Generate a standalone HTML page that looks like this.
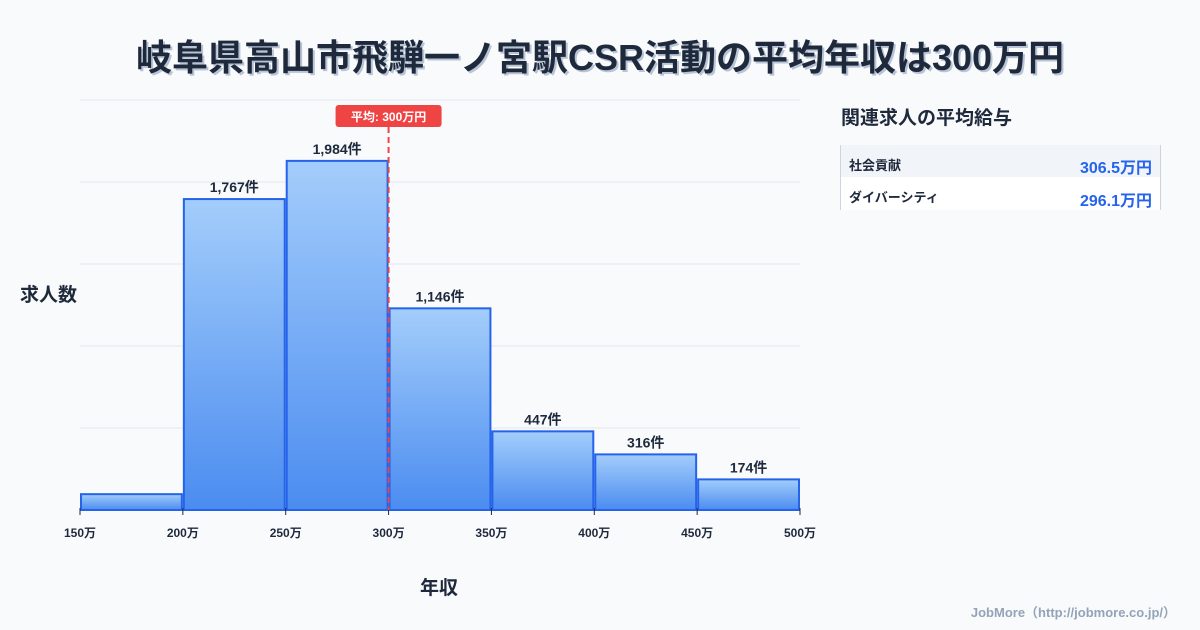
<!DOCTYPE html>
<html><head><meta charset="utf-8">
<style>
body{margin:0;width:1200px;height:630px;background:#f8fafc;font-family:"Liberation Sans","Noto Sans CJK JP",sans-serif;overflow:hidden;position:relative}
.t{position:absolute;white-space:nowrap}
</style></head>
<body>
<div class="t" style="left:0;width:1200px;top:29px;text-align:center;font-size:36px;font-weight:bold;color:#1e293b;text-shadow:2px 2px 0 #b8c4d6">岐阜県高山市飛騨一ノ宮駅CSR活動の平均年収は300万円</div>
<div class="t" style="left:20px;top:280px;font-size:19px;font-weight:bold;color:#1e293b">求人数</div>
<div class="t" style="left:420px;top:573px;font-size:19px;font-weight:bold;color:#1e293b">年収</div>
<div class="t" style="left:841px;top:103px;font-size:19px;font-weight:bold;color:#1e293b">関連求人の平均給与</div>
<div style="position:absolute;left:840px;top:145px;width:319px;height:65px;border-left:1px solid #cbd5e1;border-right:1px solid #cbd5e1">
 <div style="position:absolute;left:0;top:0;width:319px;height:32px;background:#f1f5f9">
  <span class="t" style="left:8px;top:10px;font-size:13px;font-weight:bold;color:#1e293b">社会貢献</span>
  <span class="t" style="right:8px;top:9px;font-size:16px;font-weight:bold;color:#2563eb">306.5万円</span></div>
 <div style="position:absolute;left:0;top:32px;width:319px;height:33px;background:#fff">
  <span class="t" style="left:8px;top:10px;font-size:13px;font-weight:bold;color:#1e293b">ダイバーシティ</span>
  <span class="t" style="right:8px;top:10px;font-size:16px;font-weight:bold;color:#2563eb">296.1万円</span></div>
</div>
<div class="t" style="right:24px;top:602px;font-size:13px;font-weight:bold;color:#94a3b8">JobMore（http://jobmore.co.jp/）</div>
<svg id="c" width="1200" height="630" style="position:absolute;left:0;top:0">
<defs><linearGradient id="g" x1="0" y1="0" x2="0" y2="1"><stop offset="0" stop-color="#a3cdfb"/><stop offset="1" stop-color="#4b8cf0"/></linearGradient></defs>
</svg>
<script>
const binStarts=[150,200,250,300,350,400,450];
const counts=[90,1767,1984,1146,447,316,174];
const xTicks=[150,200,250,300,350,400,450,500];
const avg=300;
const svg=document.getElementById('c');
const NS='http://www.w3.org/2000/svg';
const X0=80,X1=800,Y0=510,Y1=100,xMin=150,xMax=500,yMax=2330;
const x=v=>X0+(v-xMin)/(xMax-xMin)*(X1-X0);
const y=v=>Y0-v/yMax*(Y0-Y1);
function mk(t,a){const e=document.createElementNS(NS,t);for(const k in a)e.setAttribute(k,a[k]);svg.appendChild(e);return e;}
for(let i=0;i<=5;i++){const e=mk('line',{x1:X0,x2:X1,y1:Y0-i*(Y0-Y1)/5,y2:Y0-i*(Y0-Y1)/5,stroke:'#e2e8f0','stroke-width':1});

}
binStarts.forEach((b,i)=>{
 const x0=x(b)+1,x1=x(b+50)-1,yt=y(counts[i]);
 const r=mk('rect',{x:x0,y:yt,width:x1-x0,height:Y0-yt,fill:'url(#g)',stroke:'#2563eb','stroke-width':2});
 
 
 if(counts[i]>=yMax*0.05){
 const t=mk('text',{x:(x0+x1)/2,y:yt-7,'text-anchor':'middle','font-size':14,'font-weight':'bold',fill:'#1e293b'});
 t.textContent=counts[i].toLocaleString('en-US')+'件';
 
 
 }
});
xTicks.forEach(v=>{
 const l=mk('line',{x1:x(v),x2:x(v),y1:Y0-2,y2:Y0+5,stroke:'#1e293b','stroke-width':1});
 
 
 const t=mk('text',{x:x(v),y:537,'text-anchor':'middle','font-size':12,'font-weight':'bold',fill:'#1e293b'});
 t.textContent=v+'万';
 
 
});
const ax=x(avg);
const al=mk('line',{x1:ax,x2:ax,y1:127,y2:Y0,stroke:'#ef4444','stroke-width':2,'stroke-dasharray':'6,4'});


const ar=mk('rect',{x:ax-53,y:105,width:106,height:22,rx:3,fill:'#ef4444'});


const at=mk('text',{x:ax,y:121,'text-anchor':'middle','font-size':12,'font-weight':'bold',fill:'#fff'});
at.textContent='平均: '+avg+'万円';


</script>
</body></html>
